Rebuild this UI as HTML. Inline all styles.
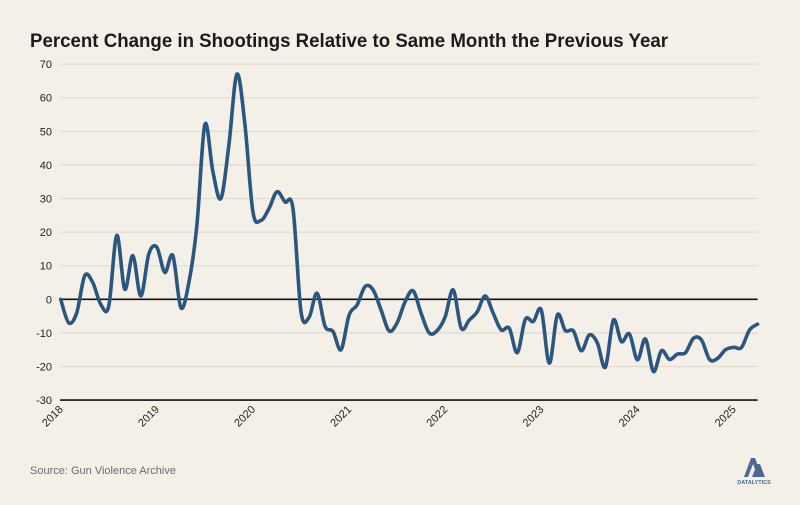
<!DOCTYPE html>
<html><head><meta charset="utf-8"><style>
html,body{margin:0;padding:0;background:#f4f0e8;}
svg{display:block;font-family:"Liberation Sans",sans-serif;}
</style></head><body>
<svg width="800" height="505" viewBox="0 0 800 505">
<rect width="800" height="505" fill="#f4f0e8"/>
<text x="30" y="47" font-size="19" font-weight="bold" fill="#1b1b1b" textLength="638" lengthAdjust="spacingAndGlyphs">Percent Change in Shootings Relative to Same Month the Previous Year</text>
<g id="grid"></g>
<g id="yt"></g>
<g id="xt"></g>
<path id="line" fill="none" stroke="#2a5782" stroke-width="3.6" stroke-linejoin="round" stroke-linecap="round"/>
<text x="30" y="474" font-size="11" fill="#6b6b6b">Source: Gun Violence Archive</text>
<g>
<path d="M744 477 L751 458 L755 458 L762 477 L758 477 L753 464 L748 477 Z" fill="#4a6a94"/>
<path d="M752 477 L757 464 L760 464 L765 477 Z" fill="#4a6a94"/>
<text x="754" y="484" font-size="5.5" font-weight="bold" fill="#4a6a94" text-anchor="middle">DATALYTICS</text>
</g>
</svg>
<script>
const yTicks=[70,60,50,40,30,20,10,0,-10,-20,-30];
const xYears=["2018","2019","2020","2021","2022","2023","2024","2025"];
const values=[0,-7,-4,7,5,-1.5,-2,19,3,13,1,13.5,
15.5,8,13,-2.5,5,22,52,38,30,46,67,52,
26,23.5,27,32,29,27,-3.7,-5.4,1.8,-8,-9.6,-15,
-4.7,-1.7,3.8,2.8,-3.2,-9.4,-7,-0.7,2.5,-4.2,-10,-9.3,
-5.2,2.8,-8.6,-6.2,-3.7,1,-4.2,-9.1,-8.6,-15.9,-6,-6.6,
-3.2,-19,-4.7,-9.3,-9.4,-15.3,-10.6,-13,-20.2,-6.2,-12.6,-10.3,
-18,-11.8,-21.5,-15.3,-17.9,-16.3,-15.9,-11.6,-12.1,-17.9,-17.6,-15,
-14.3,-14.3,-9.1,-7.4];
const X0=60.7,MW=8.01,Y0=299.3,PU=3.36,XR=757.6;
const xs=i=>X0+i*MW, ys=v=>Y0-v*PU;
const NS="http://www.w3.org/2000/svg";
const grid=document.getElementById('grid'),yt=document.getElementById('yt'),xt=document.getElementById('xt');
yTicks.forEach(t=>{
 const l=document.createElementNS(NS,'line');
 
 
 l.setAttribute('x1',60);l.setAttribute('x2',XR);l.setAttribute('y1',ys(t));l.setAttribute('y2',ys(t));
 const major=(t===0||t===-30);
 l.setAttribute('stroke',major?'#111':'#e2dbd0');l.setAttribute('stroke-width',major?1.6:1.2);
 grid.appendChild(l);
 const tx=document.createElementNS(NS,'text');
 
 
 tx.setAttribute('x',52);tx.setAttribute('y',ys(t)+4);tx.setAttribute('text-anchor','end');
 tx.setAttribute('font-size','11');tx.setAttribute('fill','#222');tx.textContent=t;
 yt.appendChild(tx);
});
xYears.forEach((y,i)=>{
 const x=xs(i*12);
 const tx=document.createElementNS(NS,'text');
 
 
 tx.setAttribute('transform',`translate(${x+3},${410}) rotate(-45)`);
 tx.setAttribute('text-anchor','end');tx.setAttribute('font-size','11');tx.setAttribute('fill','#222');
 tx.textContent=y;xt.appendChild(tx);
});
const pts=values.map((v,i)=>[xs(i),ys(v)]);
let d=`M${pts[0][0]},${pts[0][1]}`;
for(let i=0;i<pts.length-1;i++){
 const p0=pts[Math.max(0,i-1)],p1=pts[i],p2=pts[i+1],p3=pts[Math.min(pts.length-1,i+2)];
 const c1=[p1[0]+(p2[0]-p0[0])/6,p1[1]+(p2[1]-p0[1])/6];
 const c2=[p2[0]-(p3[0]-p1[0])/6,p2[1]-(p3[1]-p1[1])/6];
 d+=` C${c1[0]},${c1[1]} ${c2[0]},${c2[1]} ${p2[0]},${p2[1]}`;
}
document.getElementById('line').setAttribute('d',d);
</script>
</body></html>
